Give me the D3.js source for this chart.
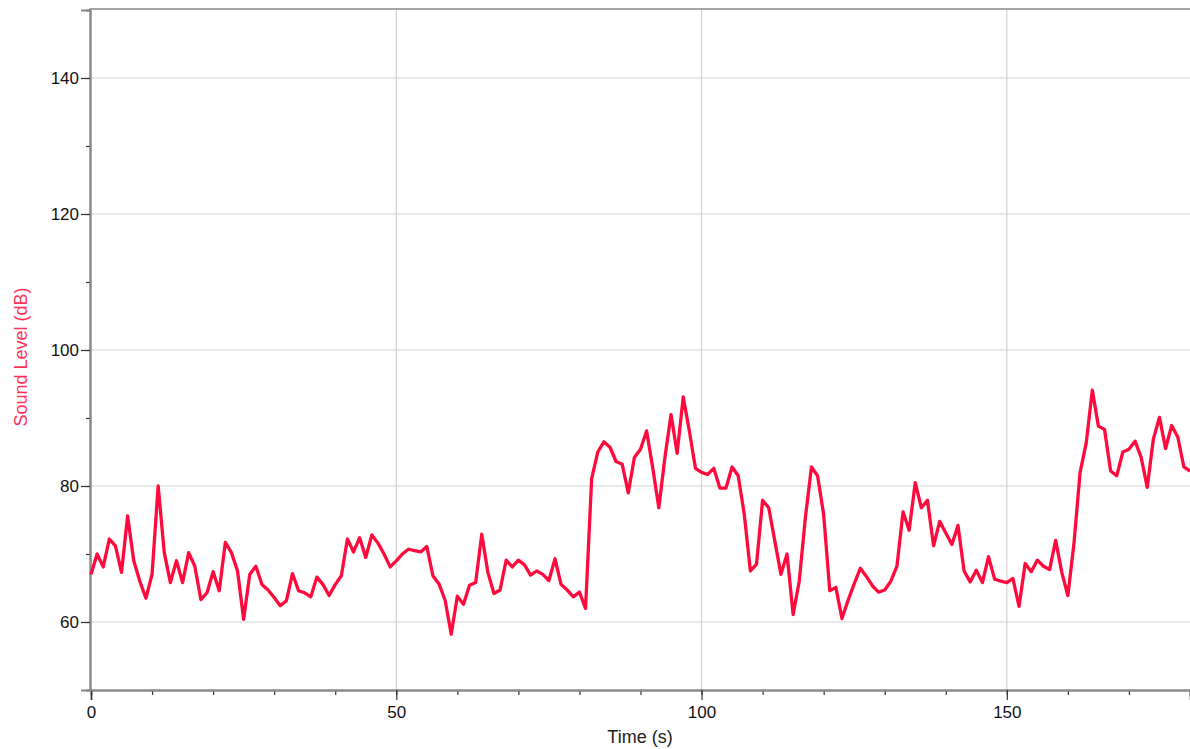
<!DOCTYPE html>
<html><head><meta charset="utf-8">
<script src="https://cdn.jsdelivr.net/npm/d3@7"></script>
<style>body{margin:0;background:#fff;}svg{display:block;font-family:"Liberation Sans",Arial,sans-serif;}</style>
</head><body>
<svg id="c" width="1190" height="749"></svg>
<script>
const times = d3.range(0, 181, 1);
const soundLevel = [
67.0,70.0,68.1,72.2,71.2,67.3,75.6,69.0,66.0,63.5,
67.0,80.0,70.2,65.8,69.0,65.8,70.2,68.2,63.3,64.3,
67.4,64.6,71.7,70.2,67.5,60.4,67.0,68.2,65.5,64.7,
63.6,62.4,63.1,67.1,64.6,64.3,63.7,66.6,65.5,63.9,
65.5,66.8,72.2,70.3,72.4,69.5,72.8,71.6,70.0,68.1,
69.0,70.0,70.7,70.5,70.3,71.1,66.8,65.6,63.2,58.2,
63.8,62.6,65.4,65.8,72.9,67.3,64.2,64.7,69.1,68.1,
69.1,68.4,66.9,67.5,67.0,66.1,69.3,65.5,64.7,63.7,
64.4,62.0,81.1,85.0,86.5,85.7,83.6,83.2,79.0,84.2,
85.4,88.1,82.7,76.8,84.2,90.5,84.8,93.1,88.1,82.6,
82.0,81.7,82.6,79.7,79.7,82.8,81.5,75.8,67.5,68.5,
77.9,76.8,71.9,67.0,70.0,61.1,66.0,75.3,82.8,81.5,
75.8,64.6,65.1,60.5,63.2,65.6,67.9,66.7,65.3,64.4,
64.7,66.0,68.2,76.2,73.5,80.5,76.8,77.9,71.2,74.8,
73.1,71.4,74.2,67.5,65.9,67.6,65.8,69.6,66.3,66.0,
65.8,66.4,62.3,68.6,67.4,69.1,68.2,67.7,72.0,67.3,
63.9,71.6,82.0,86.3,94.1,88.8,88.3,82.2,81.5,85.0,
85.4,86.6,84.2,79.8,86.9,90.1,85.5,88.9,87.2,82.8,
82.2];
const xMajorTicks = [0, 50, 100, 150];
const xMinorTicks = d3.range(0, 181, 10);
const yMajorTicks = [60, 80, 100, 120, 140];
const yMinorTicks = d3.range(50, 151, 10);
const xTitle = "Time (s)";
const yTitle = "Sound Level (dB)";

const svg = d3.select("#c");
const L = 91, T = 10, R = 1190, B = 690;
const x = d3.scaleLinear().domain([0, 180]).range([L, R]);
const y = d3.scaleLinear().domain([50, 150]).range([B, T]);

// grid
svg.append("g").selectAll("line").data(xMajorTicks.filter(d => d > 0)).join("line")
  .attr("x1", d => x(d)).attr("x2", d => x(d)).attr("y1", T).attr("y2", B)
  .attr("stroke", "#d3d3d3").attr("stroke-width", 1.2);
svg.append("g").selectAll("line").data(yMajorTicks).join("line")
  .attr("x1", L).attr("x2", R).attr("y1", d => y(d)).attr("y2", d => y(d))
  .attr("stroke", "#d3d3d3").attr("stroke-width", 1.2);

// top frame
svg.append("line").attr("x1", L - 2).attr("x2", R).attr("y1", T - 1).attr("y2", T - 1)
  .attr("stroke", "#8a8a8a").attr("stroke-width", 1.5);

// axes
const xMinor = d3.axisBottom(x).tickValues(xMinorTicks).tickSize(5).tickFormat("");
const xMajor = d3.axisBottom(x).tickValues(xMajorTicks).tickSize(10).tickPadding(6).tickFormat(d3.format("d"));
const gxm = svg.append("g").attr("transform", `translate(0,${B})`).call(xMinor);
const gx = svg.append("g").attr("transform", `translate(0,${B})`).call(xMajor);
const yMinor = d3.axisLeft(y).tickValues(yMinorTicks).tickSize(4).tickFormat("");
const yMajor = d3.axisLeft(y).tickValues(yMajorTicks).tickSize(9).tickPadding(2).tickFormat(d3.format("d"));
const gym = svg.append("g").attr("transform", `translate(${L - 1},0)`).call(yMinor);
const gy = svg.append("g").attr("transform", `translate(${L - 1},0)`).call(yMajor);
[gxm, gx, gym, gy].forEach(g => {
  g.select(".domain").attr("stroke", "#8a8a8a").attr("stroke-width", 2);
  g.selectAll(".tick line").attr("stroke", "#333").attr("stroke-width", 1.2);
  g.selectAll("text").attr("font-size", 17).attr("fill", "#111")
    .attr("font-family", '"Liberation Sans",Arial,sans-serif');
});

// line
const line = d3.line().x((d, i) => x(times[i])).y(d => y(d));
svg.append("path").datum(soundLevel).attr("d", line)
  .attr("fill", "none").attr("stroke", "#ff0a3c").attr("stroke-width", 3.3)
  .attr("stroke-linejoin", "round");

// titles
svg.append("text").attr("x", 640).attr("y", 743).attr("text-anchor", "middle")
  .attr("font-size", 18).attr("fill", "#222").text(xTitle);
svg.append("text").attr("transform", `translate(27,357) rotate(-90)`)
  .attr("text-anchor", "middle").attr("font-size", 18).attr("fill", "#ff3358").text(yTitle);
</script>
</body></html>
